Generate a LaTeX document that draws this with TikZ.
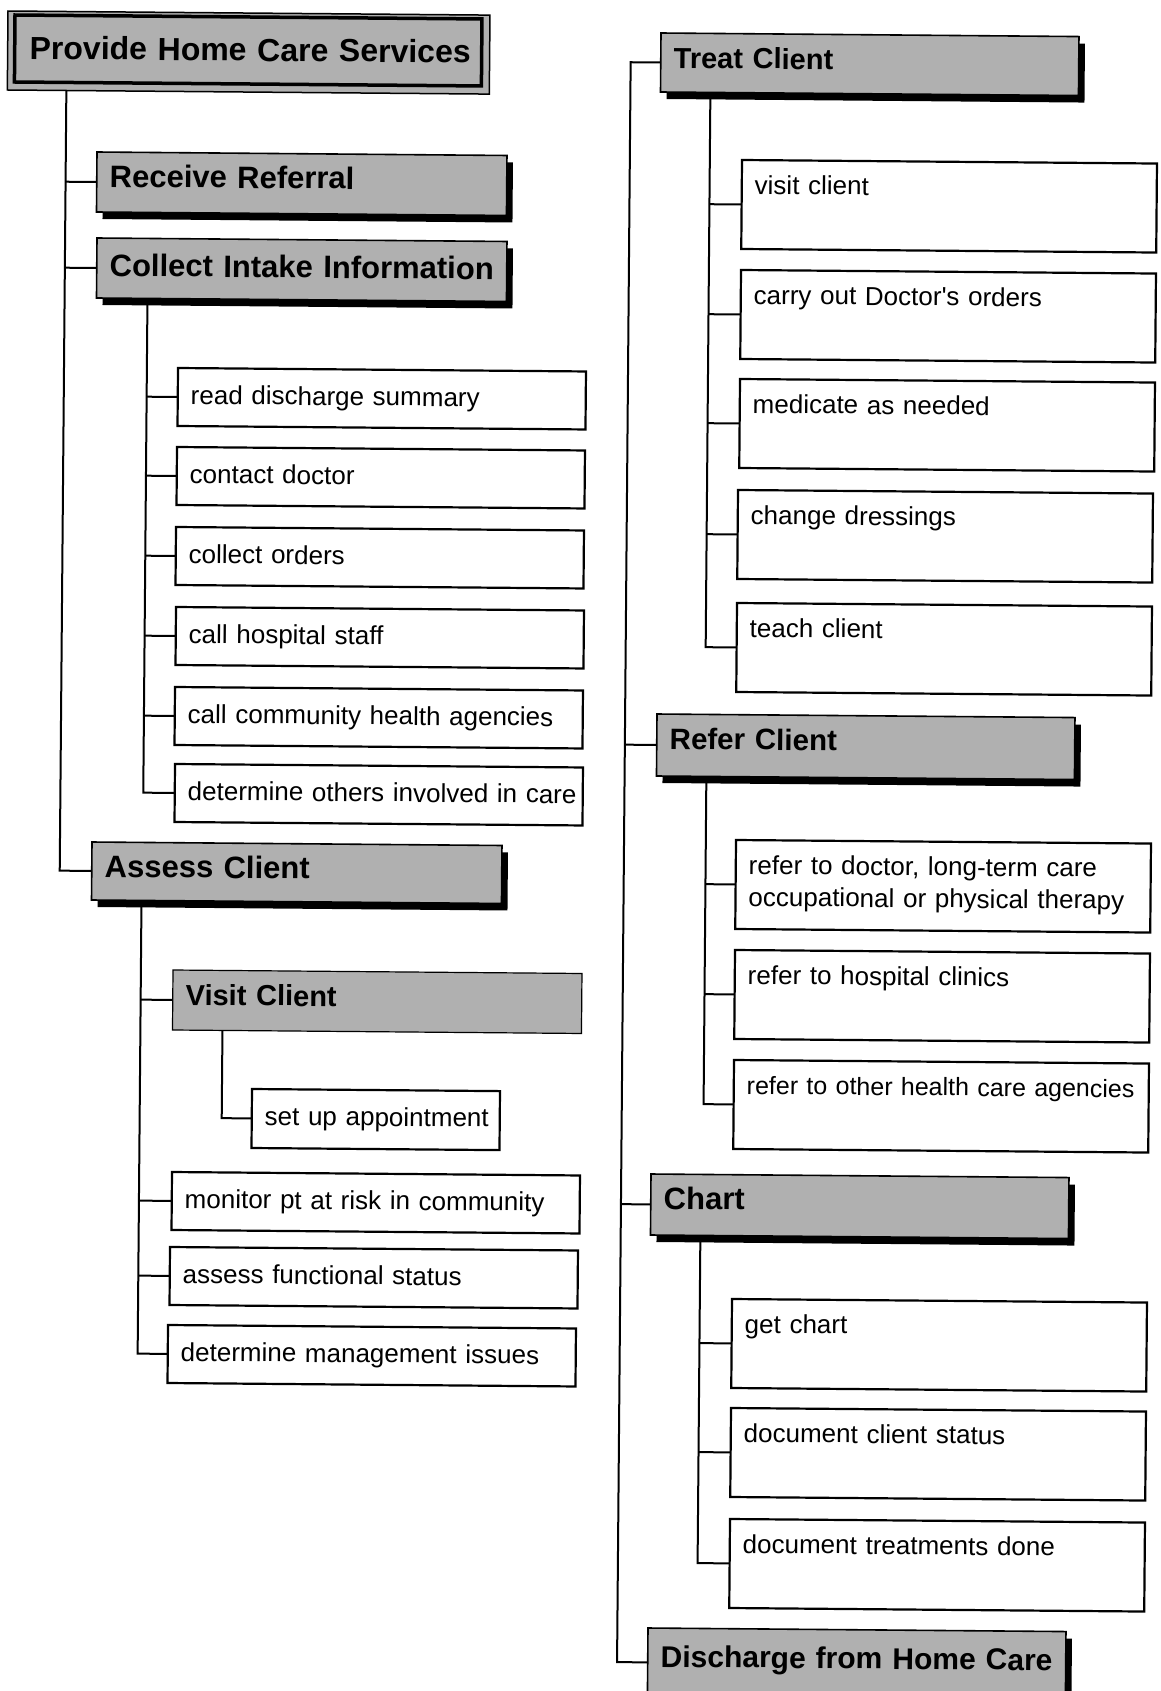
\documentclass[tikz,border=0pt]{standalone}
\usepackage{fontspec}
\setmainfont{Liberation Sans}
\newfontfamily\plainfont{Liberation Sans}
\usetikzlibrary{shadows,backgrounds}
\definecolor{hdrgray}{RGB}{176,176,176}
\begin{document}
\begin{tikzpicture}[x=1pt, y=1pt,
  % place a node by the position of its top-left corner on the sheet
  img/.style 2 args={shift={({#1+0.0085*(#2-850)},{-#2+0.0085*(#1-580)})}},
  tbox/.style={anchor=north west, inner xsep=13pt, inner ysep=0pt, outer sep=0pt, align=left},
  hdr/.style={tbox, draw, line width=1.6pt, fill=hdrgray,
    font=\bfseries\fontsize{31}{34}\selectfont, text height=35pt, text depth=25pt},
  hdrdrop/.style={drop shadow={shadow xshift=6pt, shadow yshift=-7pt, fill=black, opacity=1}},
  hdrL/.style={hdr, hdrdrop, text width=384pt},
  hdrR/.style={hdr, hdrdrop, text width=392pt},
  smallhdr/.style={font=\bfseries\fontsize{29}{34}\selectfont},
  leaf/.style={tbox, draw, line width=2.2pt, fill=white, font=\plainfont\fontsize{26}{32}\selectfont},
  leafL/.style={leaf, text width=382pt, text height=36pt, text depth=22pt},
  leafR/.style={leaf, text width=389pt, text height=34pt, text depth=55pt},
  wire/.style={line width=2pt}
]
\useasboundingbox (0,0) rectangle (1161,-1691);
\clip (0,0) rectangle (1161,-1691);
\begin{scope}[on background layer]
  \fill[white] (0,0) rectangle (1161,-1691);
\end{scope}

\begin{scope}[rotate around={-0.487:(580,-850)}, transform shape]
  % top process with its double frame
  \path[img={8}{11}, draw, line width=1.5pt, fill=hdrgray] (0,0) rectangle (482,-79);
  \node[tbox, img={15}{15}, draw, line width=3.5pt, fill=hdrgray, inner xsep=15pt,
        text width=437pt, text height=44pt, text depth=23pt,
        font=\bfseries\fontsize{32}{36}\selectfont] (root) at (0,0) {\mbox{Provide Home Care Services}};

  % left column
  \node[hdrL, img={97}{152}] (receive) at (0,0) {Receive Referral};
  \node[hdrL, img={97}{238}, text height=38pt, text depth=22pt] (collect) at (0,0) {\mbox{Collect Intake Information}};

  \node[leafL, img={178}{368}] (rds) at (0,0) {read discharge summary};
  \node[leafL, img={177}{447}] (cdr) at (0,0) {contact doctor};
  \node[leafL, img={176}{527}] (cor) at (0,0) {collect orders};
  \node[leafL, img={176}{607}] (chs) at (0,0) {call hospital staff};
  \node[leafL, img={175}{687}] (cch) at (0,0) {\mbox{call community health agencies}};
  \node[leafL, img={175}{764}] (doi) at (0,0) {\mbox{determine others involved in care}};

  \node[hdrL, img={92}{842}, text depth=23pt] (assess) at (0,0) {Assess Client};
  \node[hdr, smallhdr, img={173}{970}, line width=1.2pt, text width=383pt] (visit) at (0,0) {Visit Client};
  \node[leaf, img={252}{1089}, text width=222pt, text height=36pt, text depth=23pt] (sua) at (0,0) {\mbox{set up appointment}};
  \node[leafL, img={172}{1172}] (mon) at (0,0) {\mbox{monitor pt at risk in community}};
  \node[leafL, img={170}{1247}] (afs) at (0,0) {assess functional status};
  \node[leafL, img={168}{1325}] (dmi) at (0,0) {\mbox{determine management issues}};

  % right column
  \node[hdrR, smallhdr, img={661}{33}, text depth=24pt] (treat) at (0,0) {Treat Client};
  \node[leafR, img={742}{160}] (vcl) at (0,0) {visit client};
  \node[leafR, img={741}{270}] (cdo) at (0,0) {carry out Doctor's orders};
  \node[leafR, img={740}{379}] (man) at (0,0) {medicate as needed};
  \node[leafR, img={738}{490}] (chd) at (0,0) {change dressings};
  \node[leafR, img={737}{603}] (tcl) at (0,0) {teach client};

  \node[hdrR, img={657}{714}, text depth=27pt, font=\bfseries\fontsize{29.5}{34}\selectfont] (refer) at (0,0) {Refer Client};
  \node[leafR, img={736}{840}] (rdc) at (0,0) {\mbox{refer to doctor, long-term care}\\\mbox{occupational or physical therapy}};
  \node[leafR, img={735}{950}] (rhc) at (0,0) {refer to hospital clinics};
  \node[leafR, img={734}{1060}, font=\plainfont\fontsize{25}{32}\selectfont] (roa) at (0,0) {\mbox{refer to other health care agencies}};

  \node[hdrR, img={651}{1174}, text depth=26pt] (chart) at (0,0) {Chart};
  \node[leafR, img={732}{1299}] (gch) at (0,0) {get chart};
  \node[leafR, img={731}{1408}] (dcs) at (0,0) {document client status};
  \node[leafR, img={730}{1519}] (dtd) at (0,0) {document treatments done};

  \node[hdrR, img={648}{1628}, text height=39pt, text depth=30pt, font=\bfseries\fontsize{30}{34}\selectfont] (discharge) at (0,0) {\mbox{Discharge from Home Care}};

  % tree lines
  \begin{scope}[on background layer]
    \coordinate (rootT) at ([xshift=52pt, yshift=-8pt]root.south west);
    \draw[wire] (rootT) |- (assess.west);
    \draw[wire] (receive.west) -- (receive.west -| rootT);
    \draw[wire] (collect.west) -- (collect.west -| rootT);

    \coordinate (collectT) at ([xshift=51pt]collect.south west);
    \draw[wire] (collectT) |- (doi.west);
    \draw[wire] (rds.west) -- (rds.west -| collectT);
    \draw[wire] (cdr.west) -- (cdr.west -| collectT);
    \draw[wire] (cor.west) -- (cor.west -| collectT);
    \draw[wire] (chs.west) -- (chs.west -| collectT);
    \draw[wire] (cch.west) -- (cch.west -| collectT);

    \coordinate (assessT) at ([xshift=50pt]assess.south west);
    \draw[wire] (assessT) |- (dmi.west);
    \draw[wire] (visit.west) -- (visit.west -| assessT);
    \draw[wire] (mon.west) -- (mon.west -| assessT);
    \draw[wire] (afs.west) -- (afs.west -| assessT);

    \coordinate (visitT) at ([xshift=50pt]visit.south west);
    \draw[wire] (visitT) |- (sua.west);

    \coordinate (mainT) at ([xshift=-30pt]treat.west);
    \draw[wire] (treat.west) -- (mainT) |- (discharge.west);
    \draw[wire] (refer.west) -- (refer.west -| mainT);
    \draw[wire] (chart.west) -- (chart.west -| mainT);

    \coordinate (treatT) at ([xshift=50pt]treat.south west);
    \draw[wire] (treatT) |- (tcl.west);
    \draw[wire] (vcl.west) -- (vcl.west -| treatT);
    \draw[wire] (cdo.west) -- (cdo.west -| treatT);
    \draw[wire] (man.west) -- (man.west -| treatT);
    \draw[wire] (chd.west) -- (chd.west -| treatT);

    \coordinate (referT) at ([xshift=50pt]refer.south west);
    \draw[wire] (referT) |- (roa.west);
    \draw[wire] (rdc.west) -- (rdc.west -| referT);
    \draw[wire] (rhc.west) -- (rhc.west -| referT);

    \coordinate (chartT) at ([xshift=50pt]chart.south west);
    \draw[wire] (chartT) |- (dtd.west);
    \draw[wire] (gch.west) -- (gch.west -| chartT);
    \draw[wire] (dcs.west) -- (dcs.west -| chartT);
  \end{scope}
\end{scope}
\end{tikzpicture}
\end{document}
